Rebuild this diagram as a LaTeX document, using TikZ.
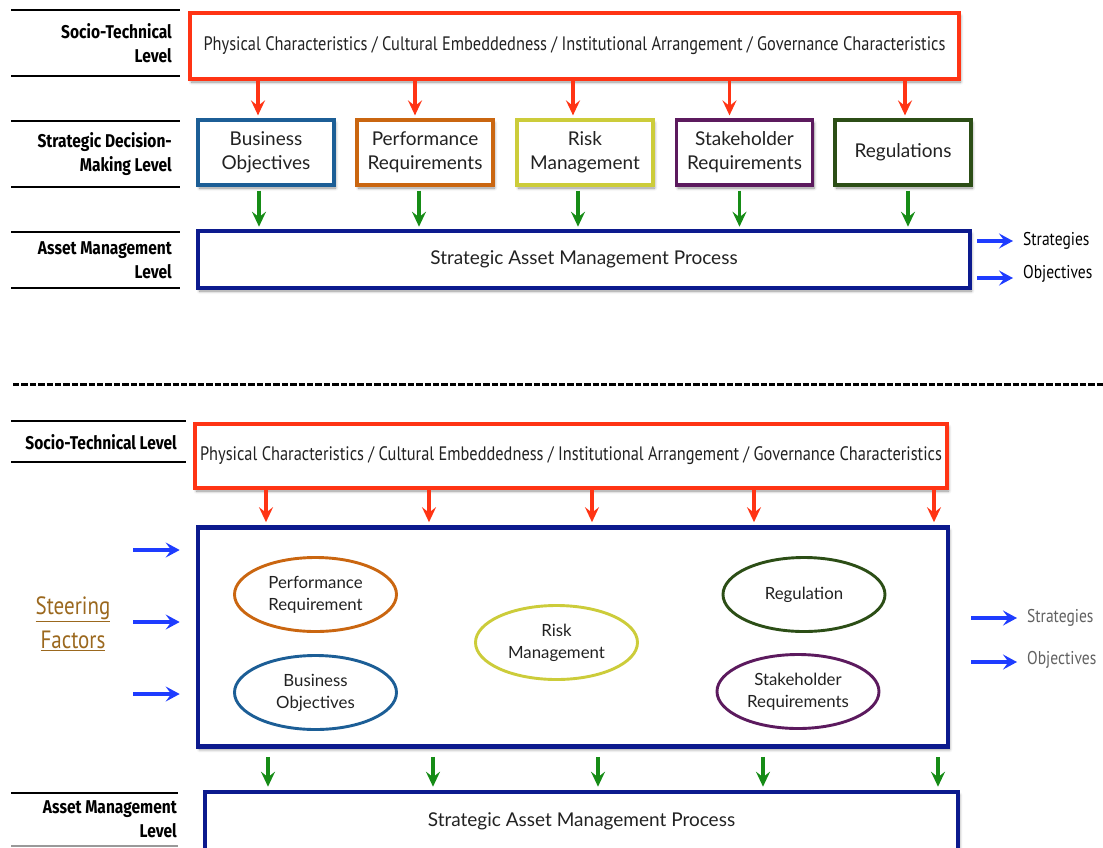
\documentclass[tikz,border=0pt]{standalone}
\usepackage{fontspec}
\setmainfont{Lato}
\newfontfamily\condfont[FakeStretch=0.84]{PT Sans}
\newfontfamily\labelfont[FakeStretch=0.84]{Fira Sans}
\usetikzlibrary{arrows.meta,shapes.geometric,shadows.blur,calc}

\definecolor{stred}{RGB}{255,52,20}
\definecolor{navy}{RGB}{12,26,142}
\definecolor{arrgreen}{RGB}{22,140,22}
\definecolor{arrblue}{RGB}{30,60,255}
\definecolor{bizblue}{RGB}{28,94,150}
\definecolor{perforange}{RGB}{202,102,16}
\definecolor{riskyellow}{RGB}{204,204,58}
\definecolor{stakepurple}{RGB}{92,26,94}
\definecolor{reggreen}{RGB}{44,78,22}
\definecolor{steerbrown}{RGB}{155,104,30}
\definecolor{txt}{RGB}{34,34,34}

\tikzset{
  shade/.style={blur shadow={shadow xshift=1.5pt, shadow yshift=-3pt,
    shadow blur radius=3pt, shadow blur steps=6, shadow opacity=45}},
  levelline/.style={line width=1.3pt, black},
  leveltext/.style={font=\labelfont\bfseries\fontsize{18.5}{24}\selectfont, align=right, anchor=east, inner sep=0pt},
  factorbox/.style={draw=stred, line width=3.2pt, fill=white, shade,
    font=\condfont\fontsize{19.5}{24}\selectfont, text=txt},
  stratbox/.style={draw=#1, line width=3.2pt, fill=white, shade,
    minimum width=136pt, minimum height=65pt, align=center,
    font=\fontsize{19}{24}\selectfont, text=txt},
  processbox/.style={draw=navy, line width=4.6pt, fill=white, shade,
    font=\fontsize{19}{22}\selectfont, text=txt},
  factoroval/.style={ellipse, draw=#1, line width=2.9pt, fill=white,
    minimum width=162pt, minimum height=74pt, align=center, inner sep=0pt,
    font=\fontsize{16.8}{22}\selectfont, text=txt},
  tip/.style={-{Stealth[length=15pt, width=14pt, inset=5.5pt]}},
  redarr/.style={draw=stred, line width=3.2pt, tip},
  greenarr/.style={draw=arrgreen, line width=3.2pt, tip},
  bluearr/.style={draw=arrblue, line width=3.2pt, -{Stealth[length=14pt, width=15pt, inset=5.5pt]}},
  outtext/.style={anchor=west, inner sep=0pt, font=\condfont\fontsize{18.5}{20}\selectfont},
}

\begin{document}
\begin{tikzpicture}[x=1pt, y=-1pt]
\useasboundingbox (0,0) rectangle (1103,847);
\clip (0,0) rectangle (1103,847);

%% ---------------- upper scheme ----------------
% level bands
\foreach \yy in {10,76,121,187,232,288}
  \draw[levelline] (11,\yy) -- (180,\yy);
\node[leveltext] (lvA) at (172,43) {Socio-Technical\\Level};
\node[leveltext] (lvB) at (172,154) {Strategic Decision-\\Making Level};
\node[leveltext] (lvC) at (172,260) {Asset Management\\Level};

% socio-technical factors
\node[factorbox, minimum width=769pt, minimum height=66pt] (phys) at (574.5,46)
  {Physical Characteristics / Cultural Embeddedness / Institutional Arrangement / Governance Characteristics};

% strategic decision-making factors
\node[stratbox=bizblue]     (bo) at (266,152.5) {Business\\Objectives};
\node[stratbox=perforange]  (pr) at (425,152.5) {Performance\\Requirements};
\node[stratbox=riskyellow]  (rm) at (585,152.5) {Risk\\Management};
\node[stratbox=stakepurple] (sr) at (744.5,152.5) {Stakeholder\\Requirements};
\node[stratbox=reggreen]    (rg) at (903,152.5) {Regulations};

% asset management process
\node[processbox, minimum width=772pt, minimum height=57pt] (samp) at (584,259.5)
  {Strategic Asset Management Process};

% factor arrows
\foreach \n/\dx in {bo/-8,pr/-10,rm/-12,sr/-15,rg/2}
  \draw[redarr, shorten >=3pt] ($(phys.south -| \n.north)+(\dx,0)$) -- ($(\n.north)+(\dx,0)$);
\foreach \n/\dx in {bo/-7,pr/-6,rm/-7,sr/-5,rg/5}
  \draw[greenarr, shorten >=2pt, shorten <=4pt] ($(\n.south)+(\dx,0)$) -- ($(samp.north -| \n.south)+(\dx,0)$);

% outputs
\node[outtext] (strA) at (1023,241) {Strategies};
\node[outtext] (objA) at (1023,274) {Objectives};
\draw[bluearr] (samp.east |- strA.west) ++(5,0) coordinate (sa0) (sa0) -- ($(strA.west)+(-10,0)$);
\draw[bluearr] (samp.east |- objA.west) ++(5,4) coordinate (oa0) (oa0) -- ($(objA.west)+(-10,4)$);

%% ---------------- separator ----------------
\coordinate (sepL) at (13,384);
\coordinate (sepR) at (1103,384);
\draw[line width=3pt, dash pattern=on 6.3pt off 2.1pt] (sepL) -- (sepR);

%% ---------------- lower scheme ----------------
\draw[levelline] (11,421) -- (186,421);
\draw[levelline] (11,462) -- (186,462);
\node[leveltext] (lvD) at (177,442) {Socio-Technical Level};

\node[factorbox, minimum width=752pt, minimum height=64pt] (phys2) at (571,456)
  {Physical Characteristics / Cultural Embeddedness / Institutional Arrangement / Governance Characteristics};

% steering factors container
\node[processbox, minimum width=750pt, minimum height=219pt] (steer) at (573,637) {};

\node[factoroval=perforange]  (opr) at (315.5,594.5) {Performance\\Requirement};
\node[factoroval=bizblue]     (obo) at (315.5,692.5) {Business\\Objectives};
\node[factoroval=riskyellow]  (orm) at (556.5,642.5) {Risk\\Management};
\node[factoroval=reggreen]    (org) at (804,594.5) {Regulation};
\node[factoroval=stakepurple] (osr) at (798,691.5) {Stakeholder\\Requirements};

% columns of the lower arrows
\foreach \i/\xx in {1/266,2/429,3/592,4/754,5/934}
  \coordinate (rc\i) at (\xx,0);
\foreach \i/\xx in {1/268,2/433,3/598,4/763,5/938}
  \coordinate (gc\i) at (\xx,0);

\foreach \i in {1,...,5}
  \draw[redarr, shorten >=3pt] (phys2.south -| rc\i) -- (steer.north -| rc\i);

% steering factors
\node[font=\condfont\fontsize{25}{34}\selectfont, text=steerbrown, align=center] (sf) at (73,624)
  {\underline{Steering}\\\underline{Factors}};
\coordinate (in1) at (133,550);
\coordinate (in2) at (133,622);
\coordinate (in3) at (133,694);
\foreach \i in {1,2,3}
  \draw[bluearr, shorten >=16pt] (in\i) -- (steer.west |- in\i);

% outputs
\node[outtext, text=black!62] (strB) at (1027,618) {Strategies};
\node[outtext, text=black!62] (objB) at (1027,660) {Objectives};
\draw[bluearr] ($(steer.east |- strB.west)+(21,0)$) -- ($(strB.west)+(-10,0)$);
\draw[bluearr] ($(steer.east |- objB.west)+(21,2)$) -- ($(objB.west)+(-10,2)$);

% asset management level
\draw[levelline] (11,793) -- (178,793);
\draw[levelline, black!40] (11,846) -- (178,846);
\node[leveltext] (lvE) at (177,819) {Asset Management\\Level};

\node[processbox, minimum width=753pt, minimum height=62pt] (samp2) at (581.5,823)
  {\raisebox{6pt}{Strategic Asset Management Process}};

\foreach \i in {1,...,5}
  \draw[greenarr, shorten >=3pt, shorten <=8pt] (steer.south -| gc\i) -- (samp2.north -| gc\i);
\end{tikzpicture}
\end{document}
